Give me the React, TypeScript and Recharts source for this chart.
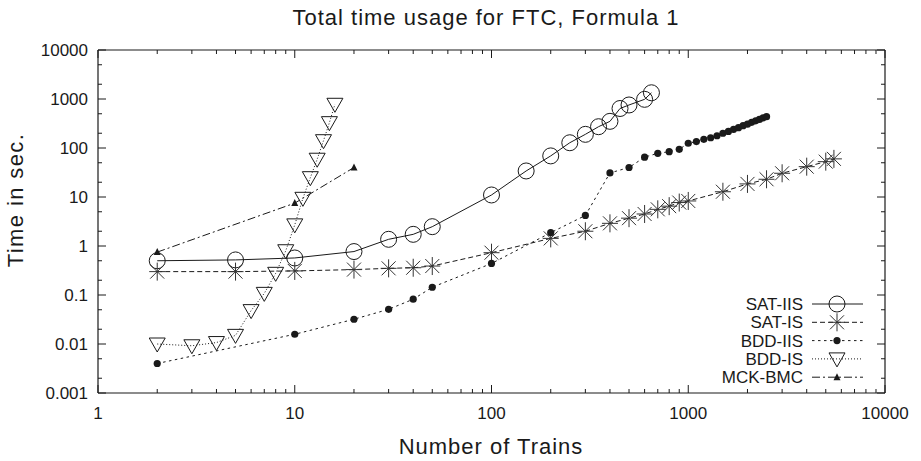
import { LineChart, Line, XAxis, YAxis, ReferenceLine } from 'recharts';

const satIIS_x = [2, 5, 10, 20, 30, 40, 50, 100, 150, 200, 250, 300, 350, 400, 450, 500, 600, 650];
const satIIS_y = [0.5, 0.52, 0.57, 0.77, 1.37, 1.73, 2.48, 11, 34, 69, 128, 190, 272, 350, 640, 755, 985, 1340];

const satIS_x = [2, 5, 10, 20, 30, 40, 50, 100, 200, 300, 400, 500, 600, 700, 800, 900, 1000, 1500, 2000, 2500, 3000, 4000, 5000, 5500];
const satIS_y = [0.3, 0.3, 0.31, 0.33, 0.35, 0.36, 0.39, 0.73, 1.43, 2.0, 2.9, 3.7, 4.5, 5.6, 6.5, 7.7, 8.3, 12.8, 18.5, 23, 30.5, 41.6, 52.6, 60];

const bddIIS_x = [2, 10, 20, 30, 40, 50, 100, 200, 300, 400, 500, 600, 700, 800, 900, 1000, 1100, 1200, 1300, 1400, 1500, 1600, 1700, 1800, 1900, 2000, 2100, 2200, 2300, 2400, 2500];
const bddIIS_y = [0.004, 0.0158, 0.032, 0.051, 0.082, 0.144, 0.44, 1.87, 4.2, 31, 40, 65, 78, 84, 94, 125, 135, 150, 162, 178, 200, 218, 240, 260, 285, 307, 334, 358, 383, 412, 436];

const bddIS_x = [2, 3, 4, 5, 6, 7, 8, 9, 10, 11, 12, 13, 14, 15, 16];
const bddIS_y = [0.01, 0.0092, 0.0107, 0.015, 0.048, 0.108, 0.277, 0.8, 2.7, 9.4, 24.8, 59, 141, 329, 780];

const mckBMC_x = [2, 10, 20];
const mckBMC_y = [0.75, 7.5, 40];

const xDecades = [1, 10, 100, 1000, 10000];
const yDecades = [0.001, 0.01, 0.1, 1, 10, 100, 1000, 10000];
const xMinorSteps = [2, 3, 4, 5, 6, 7, 8, 9];
const yMinorSteps = [2, 5];

const xTicks = xDecades.flatMap((d, i) => (i < xDecades.length - 1 ? [d, ...xMinorSteps.map((m) => d * m)] : [d]));
const yTicks = yDecades.flatMap((d, i) => (i < yDecades.length - 1 ? [d, ...yMinorSteps.map((m) => +(d * m).toPrecision(3))] : [d]));

const W = 921;
const H = 461;
const M = { top: 50, right: 36, left: 0, bottom: 0 };
const Y_AXIS_W = 98;
const X_AXIS_H = 68;
const PLOT = { left: Y_AXIS_W, right: W - M.right, top: M.top, bottom: H - X_AXIS_H };

const FONT = '"Liberation Sans", Arial, Helvetica, sans-serif';
const INK = '#1a1a1a';

const zip = (xs: number[], ys: number[]) => xs.map((x, i) => ({ x, y: ys[i] }));

type Kind = 'circle' | 'star' | 'dot' | 'tri' | 'up';

function Marker({ kind, cx, cy }: { kind: Kind; cx: number; cy: number }) {
  if (cx == null || cy == null) return null;
  if (kind === 'circle') return <circle cx={cx} cy={cy} r={8} fill="none" stroke={INK} strokeWidth={1} />;
  if (kind === 'dot') return <circle cx={cx} cy={cy} r={3.6} fill={INK} />;
  if (kind === 'up')
    return <polygon points={`${cx - 3.5},${cy + 3} ${cx + 3.5},${cy + 3} ${cx},${cy - 4}`} fill={INK} />;
  if (kind === 'tri')
    return (
      <polygon
        points={`${cx - 8},${cy - 6} ${cx + 8},${cy - 6} ${cx},${cy + 8}`}
        fill="none"
        stroke={INK}
        strokeWidth={1}
      />
    );
  return (
    <g stroke="#333" strokeWidth={1}>
      <line x1={cx - 8} y1={cy} x2={cx + 8} y2={cy} />
      <line x1={cx} y1={cy - 9} x2={cx} y2={cy + 9} />
      <line x1={cx - 7} y1={cy - 7} x2={cx + 7} y2={cy + 7} />
      <line x1={cx - 7} y1={cy + 7} x2={cx + 7} y2={cy - 7} />
    </g>
  );
}

const series = [
  { name: 'SAT-IIS', data: zip(satIIS_x, satIIS_y), kind: 'circle' as Kind, dash: undefined },
  { name: 'SAT-IS', data: zip(satIS_x, satIS_y), kind: 'star' as Kind, dash: '5 3' },
  { name: 'BDD-IIS', data: zip(bddIIS_x, bddIIS_y), kind: 'dot' as Kind, dash: '2.5 3.5' },
  { name: 'BDD-IS', data: zip(bddIS_x, bddIS_y), kind: 'tri' as Kind, dash: '1 2' },
  { name: 'MCK-BMC', data: zip(mckBMC_x, mckBMC_y), kind: 'up' as Kind, dash: '8 3 2 3' },
];

const isMajor = (v: number) => Math.abs(Math.log10(v) - Math.round(Math.log10(v))) < 1e-9;

function XTick(props: any) {
  const { x, payload } = props;
  const v = payload.value;
  const len = isMajor(v) ? 8 : 4;
  return (
    <g>
      <line x1={x} y1={PLOT.bottom} x2={x} y2={PLOT.bottom - len} stroke={INK} />
      <line x1={x} y1={PLOT.top} x2={x} y2={PLOT.top + len} stroke={INK} />
      {isMajor(v) && (
        <text x={x} y={419} textAnchor="middle" fontSize={17} fontFamily={FONT} fill={INK}>
          {String(v)}
        </text>
      )}
    </g>
  );
}

function YTick(props: any) {
  const { y, payload } = props;
  const v = payload.value;
  const len = isMajor(v) ? 8 : 4;
  return (
    <g>
      <line x1={PLOT.left} y1={y} x2={PLOT.left + len} y2={y} stroke={INK} />
      <line x1={PLOT.right} y1={y} x2={PLOT.right - len} y2={y} stroke={INK} />
      {isMajor(v) && (
        <text x={88} y={y + 6} textAnchor="end" fontSize={17} fontFamily={FONT} fill={INK}>
          {String(v)}
        </text>
      )}
    </g>
  );
}

export default function App() {
  const legendTop = 304;
  const legendStep = 18.3;
  return (
    <div style={{ position: 'relative', width: W, height: H }}>
      <style>{'body{margin:0}'}</style>
      <LineChart width={W} height={H} margin={M}>
        <XAxis
          dataKey="x"
          type="number"
          scale="log"
          domain={[1, 10000]}
          allowDataOverflow
          ticks={xTicks}
          interval={0}
          tick={XTick}
          tickLine={false}
          height={X_AXIS_H}
          axisLine={{ stroke: INK, strokeWidth: 1.2 }}
        />
        <YAxis
          type="number"
          scale="log"
          domain={[0.001, 10000]}
          allowDataOverflow
          ticks={yTicks}
          interval={0}
          tick={YTick}
          tickLine={false}
          width={Y_AXIS_W}
          axisLine={{ stroke: INK, strokeWidth: 1.2 }}
        />
        <ReferenceLine y={10000} stroke={INK} strokeWidth={1.2} />
        <ReferenceLine x={10000} stroke={INK} strokeWidth={1.2} />
        {series.map((s) => (
          <Line
            key={s.name}
            data={s.data}
            dataKey="y"
            name={s.name}
            type="linear"
            stroke={INK}
            strokeWidth={1}
            strokeDasharray={s.dash}
            isAnimationActive={false}
            dot={(p: any) => <Marker key={`${s.name}-${p.index}`} kind={s.kind} cx={p.cx} cy={p.cy} />}
            activeDot={false}
          />
        ))}
      </LineChart>
      <svg width={W} height={H} style={{ position: 'absolute', left: 0, top: 0, pointerEvents: 'none' }}>
        <text x={486} y={25} textAnchor="middle" fontSize={22} letterSpacing={1} fontFamily={FONT} fill={INK}>
          Total time usage for FTC, Formula 1
        </text>
        <text
          transform="translate(23,200) rotate(-90)"
          textAnchor="middle"
          fontSize={22}
          letterSpacing={1.4}
          fontFamily={FONT}
          fill={INK}
        >
          Time in sec.
        </text>
        <text x={491} y={454} textAnchor="middle" fontSize={22} letterSpacing={1} fontFamily={FONT} fill={INK}>
          Number of Trains
        </text>
        {series.map((s, i) => {
          const cy = legendTop + i * legendStep;
          return (
            <g key={s.name}>
              <text x={803} y={cy + 6} textAnchor="end" fontSize={17} fontFamily={FONT} fill={INK}>
                {s.name}
              </text>
              <line x1={812} y1={cy} x2={863} y2={cy} stroke={INK} strokeWidth={1} strokeDasharray={s.dash} />
              <Marker kind={s.kind} cx={837} cy={cy} />
            </g>
          );
        })}
      </svg>
    </div>
  );
}
